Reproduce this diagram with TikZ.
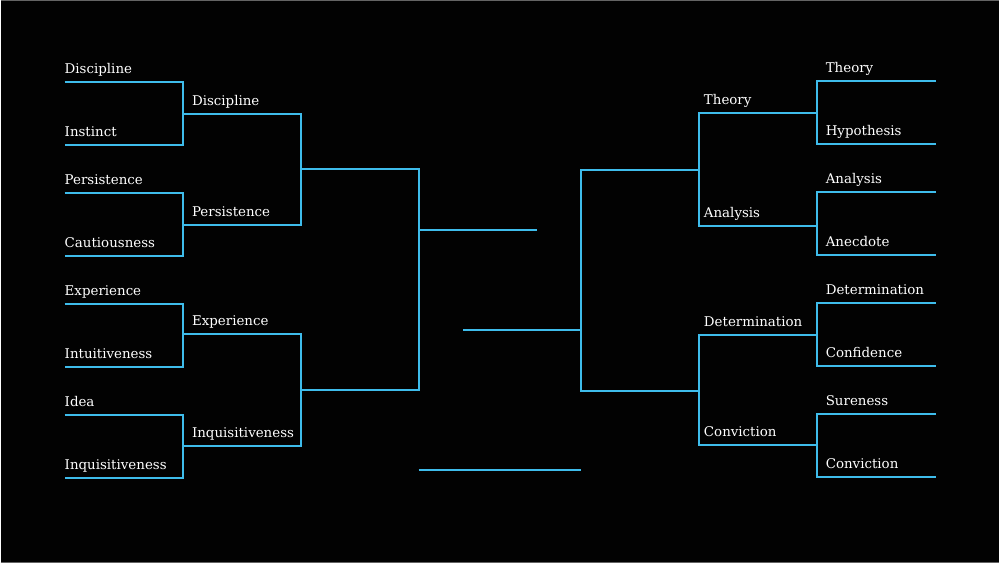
\documentclass[tikz,border=0pt]{standalone}
\usepackage{fontspec}
\setmainfont{DejaVu Serif}
\definecolor{bline}{RGB}{62,188,235}
\definecolor{bg}{RGB}{2,2,2}
\definecolor{frame}{RGB}{100,100,100}
\begin{document}
\begin{tikzpicture}[x=1pt,y=-1pt,
  wire/.style={draw=bline,line width=2pt,line cap=butt,line join=miter},
  lbl/.style={anchor=base west,inner sep=0pt,text=white,font=\fontsize{13.4}{15}\selectfont}]
\fill[bg] (0,0) rectangle (1000,564);
\coordinate (FT1) at (0,0.6); \coordinate (FT2) at (1000,0.6);
\coordinate (FB1) at (0,563.4); \coordinate (FB2) at (1000,563.4);
\draw[frame,line width=1.2pt] (FT1) -- (FT2);
\draw[frame,line width=1.2pt] (FB1) -- (FB2);
\useasboundingbox (0,0) rectangle (1000,564);
% ---------- left side coordinates ----------
\coordinate (L1a) at (64,82.5);   \coordinate (L1aE) at (182.5,82.5);
\coordinate (L1b) at (64,145.5);  \coordinate (L1bE) at (182.5,145.5);
\coordinate (L1c) at (64,193.5);  \coordinate (L1cE) at (182.5,193.5);
\coordinate (L1d) at (64,256.5);  \coordinate (L1dE) at (182.5,256.5);
\coordinate (L1e) at (64,304.5);  \coordinate (L1eE) at (182.5,304.5);
\coordinate (L1f) at (64,367.5);  \coordinate (L1fE) at (182.5,367.5);
\coordinate (L1g) at (64,415.5);  \coordinate (L1gE) at (182.5,415.5);
\coordinate (L1h) at (64,478.5);  \coordinate (L1hE) at (182.5,478.5);
\coordinate (L2a) at (182.5,114); \coordinate (L2aE) at (300.5,114);
\coordinate (L2b) at (182.5,225); \coordinate (L2bE) at (300.5,225);
\coordinate (L2c) at (182.5,334); \coordinate (L2cE) at (300.5,334);
\coordinate (L2d) at (182.5,447); \coordinate (L2dE) at (300.5,447);
\coordinate (L3a) at (300.5,169.5); \coordinate (L3aE) at (418.5,169.5);
\coordinate (L3b) at (300.5,390);   \coordinate (L3bE) at (418.5,390);
\coordinate (LF) at (418.5,230);    \coordinate (LFE) at (537,230);
% ---------- right side coordinates ----------
\coordinate (R1a) at (936.5,81.5);  \coordinate (R1aE) at (817.5,81.5);
\coordinate (R1b) at (936.5,144.5); \coordinate (R1bE) at (817.5,144.5);
\coordinate (R1c) at (936.5,192.5); \coordinate (R1cE) at (817.5,192.5);
\coordinate (R1d) at (936.5,255.5); \coordinate (R1dE) at (817.5,255.5);
\coordinate (R1e) at (936.5,303.5); \coordinate (R1eE) at (817.5,303.5);
\coordinate (R1f) at (936.5,366.5); \coordinate (R1fE) at (817.5,366.5);
\coordinate (R1g) at (936.5,414.5); \coordinate (R1gE) at (817.5,414.5);
\coordinate (R1h) at (936.5,477.5); \coordinate (R1hE) at (817.5,477.5);
\coordinate (R2a) at (817.5,113);   \coordinate (R2aE) at (699.5,113);
\coordinate (R2b) at (817.5,226.5); \coordinate (R2bE) at (699.5,226.5);
\coordinate (R2c) at (817.5,335.5); \coordinate (R2cE) at (699.5,335.5);
\coordinate (R2d) at (817.5,446);   \coordinate (R2dE) at (699.5,446);
\coordinate (R3a) at (699.5,170);   \coordinate (R3aE) at (581.5,170);
\coordinate (R3b) at (699.5,391);   \coordinate (R3bE) at (581.5,391);
\coordinate (RF) at (581.5,330.5);  \coordinate (RFE) at (463,330.5);
% bottom line
\coordinate (B1) at (418.5,470.5);  \coordinate (B2) at (581.5,470.5);
% ---------- left wires ----------
\draw[wire] (L1a) -- (L1aE) -- (L1bE) -- (L1b);
\draw[wire] (L1c) -- (L1cE) -- (L1dE) -- (L1d);
\draw[wire] (L1e) -- (L1eE) -- (L1fE) -- (L1f);
\draw[wire] (L1g) -- (L1gE) -- (L1hE) -- (L1h);
\draw[wire] (L2a) -- (L2aE) -- (L2bE) -- (L2b);
\draw[wire] (L2c) -- (L2cE) -- (L2dE) -- (L2d);
\draw[wire] (L3a) -- (L3aE) -- (L3bE) -- (L3b);
\draw[wire] (LF) -- (LFE);
% ---------- right wires ----------
\draw[wire] (R1a) -- (R1aE) -- (R1bE) -- (R1b);
\draw[wire] (R1c) -- (R1cE) -- (R1dE) -- (R1d);
\draw[wire] (R1e) -- (R1eE) -- (R1fE) -- (R1f);
\draw[wire] (R1g) -- (R1gE) -- (R1hE) -- (R1h);
\draw[wire] (R2a) -- (R2aE) -- (R2bE) -- (R2b);
\draw[wire] (R2c) -- (R2cE) -- (R2dE) -- (R2d);
\draw[wire] (R3a) -- (R3aE) -- (R3bE) -- (R3b);
\draw[wire] (RF) -- (RFE);
\draw[wire] (B1) -- (B2);
% ---------- left labels ----------
\node[lbl] (tL1a) at (64,74) {Discipline};
\node[lbl] (tL1b) at (64,137) {Instinct};
\node[lbl] (tL1c) at (64,185) {Persistence};
\node[lbl] (tL1d) at (64,248) {Cautiousness};
\node[lbl] (tL1e) at (64,296) {Experience};
\node[lbl] (tL1f) at (64,359) {Intuitiveness};
\node[lbl] (tL1g) at (64,407) {Idea};
\node[lbl] (tL1h) at (64,470) {Inquisitiveness};
\node[lbl] (tL2a) at (191.5,105.5) {Discipline};
\node[lbl] (tL2b) at (191.5,216.5) {Persistence};
\node[lbl] (tL2c) at (191.5,325.5) {Experience};
\node[lbl] (tL2d) at (191.5,438.5) {Inquisitiveness};
% ---------- right labels ----------
\node[lbl] (tR1a) at (826,73) {Theory};
\node[lbl] (tR1b) at (826,136) {Hypothesis};
\node[lbl] (tR1c) at (826,184) {Analysis};
\node[lbl] (tR1d) at (826,247) {Anecdote};
\node[lbl] (tR1e) at (826,295) {Determination};
\node[lbl] (tR1f) at (826,358) {Confidence};
\node[lbl] (tR1g) at (826,406) {Sureness};
\node[lbl] (tR1h) at (826,469) {Conviction};
\node[lbl] (tR2a) at (704,104.5) {Theory};
\node[lbl] (tR2b) at (704,218) {Analysis};
\node[lbl] (tR2c) at (704,327) {Determination};
\node[lbl] (tR2d) at (704,437.5) {Conviction};
\end{tikzpicture}
\end{document}
